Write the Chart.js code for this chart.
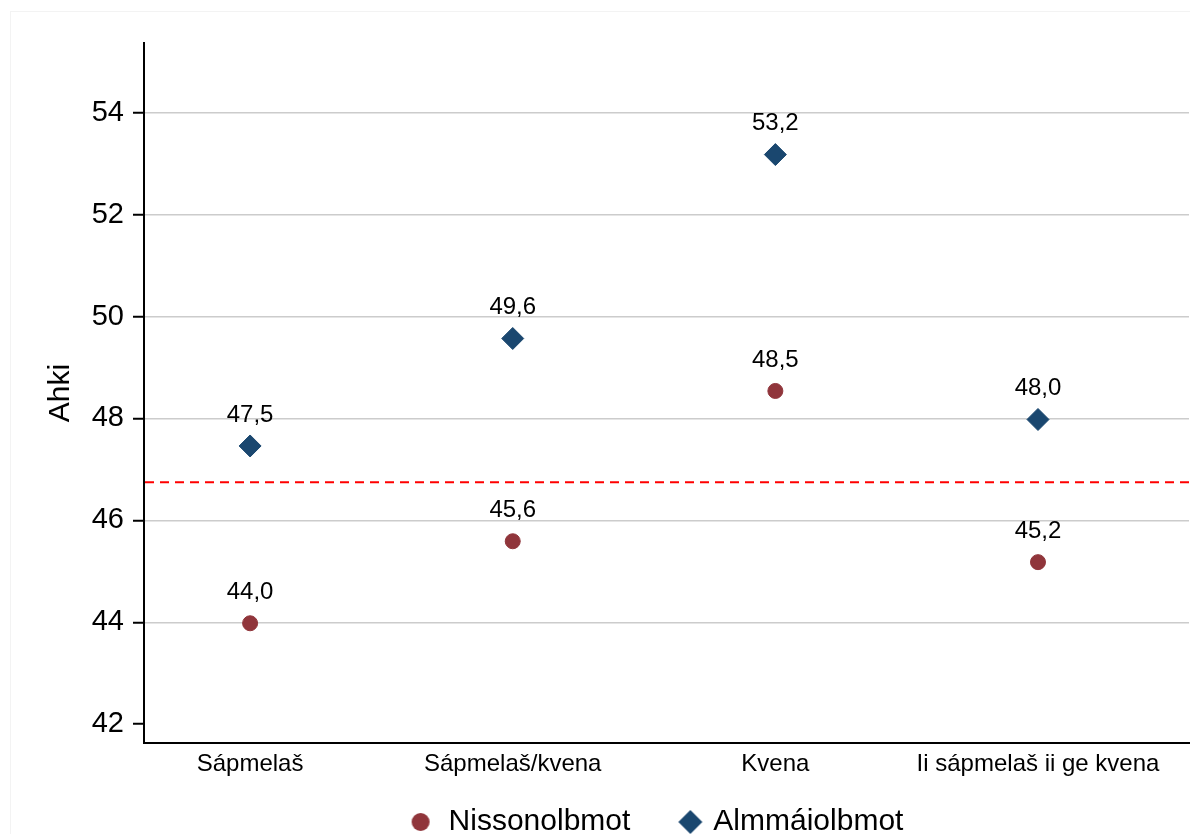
<!DOCTYPE html>
<html lang="se">
<head>
<meta charset="UTF-8">
<title>Ahki</title>
<script src="https://cdn.jsdelivr.net/npm/chart.js@4.4.1/dist/chart.umd.min.js"></script>
<style>
  html, body { margin: 0; padding: 0; background: #ffffff; }
  #wrap { position: relative; width: 1190px; height: 836px; }
  #frame { position: absolute; left: 10px; top: 11px; right: 0; bottom: 2px;
           border-left: 1px solid #f3f3f3; border-top: 1px solid #f3f3f3; pointer-events: none; }
</style>
</head>
<body>
<div id="wrap">
  <canvas id="ahkiChart" width="1190" height="836"></canvas>
  <div id="frame"></div>
</div>
<script>
// data
const categories = ['Sápmelaš', 'Sápmelaš/kvena', 'Kvena', 'Ii sápmelaš ii ge kvena'];
const nissonValues = [43.98, 45.59, 48.54, 45.18];
const almmaiValues = [47.46, 49.57, 53.18, 47.98];
const seriesNames = ['Nissonolbmot', 'Almmáiolbmot'];
const yTicks = [42, 44, 46, 48, 50, 52, 54];
const refLine = 46.75;

const maroon = '#90353B';
const navy = '#1A476F';
const fontFamily = '"Liberation Sans", Arial, sans-serif';

// legend markers as small canvases (marker sits a bit right of the image centre)
function makeMarker(shape, color, r, dx) {
    const c = document.createElement('canvas');
    c.width = 90; c.height = 30;
    const g = c.getContext('2d');
    const cx = 45 + dx, cy = 15;
    g.fillStyle = color;
    g.beginPath();
    if (shape === 'circle') {
        g.arc(cx, cy, r, 0, Math.PI * 2);
    } else {
        g.moveTo(cx - r, cy); g.lineTo(cx, cy - r); g.lineTo(cx + r, cy); g.lineTo(cx, cy + r);
        g.closePath();
    }
    g.fill();
    return c;
}
const legendMarkers = [makeMarker('circle', maroon, 9, 16), makeMarker('diamond', navy, 12, 21)];

// red dashed reference line
const refLinePlugin = {
    id: 'refLine',
    beforeDatasetsDraw(chart) {
        const {ctx, chartArea, scales} = chart;
        const y = scales.y.getPixelForValue(refLine);
        ctx.save();
        ctx.strokeStyle = '#FF0000';
        ctx.lineWidth = 2;
        ctx.setLineDash([9, 6]);
        ctx.beginPath();
        ctx.moveTo(chartArea.left + 1, y);
        ctx.lineTo(chartArea.right, y);
        ctx.stroke();
        ctx.restore();
    }
};

// value labels above each marker
const valueLabels = {
    id: 'valueLabels',
    afterDatasetsDraw(chart) {
        const ctx = chart.ctx;
        ctx.save();
        ctx.font = '24px ' + fontFamily;
        ctx.fillStyle = '#000000';
        ctx.textAlign = 'center';
        ctx.textBaseline = 'middle';
        chart.data.datasets.forEach((ds, di) => {
            chart.getDatasetMeta(di).data.forEach((pt, i) => {
                const txt = ds.data[i].y.toFixed(1).replace('.', ',');
                ctx.fillText(txt, pt.x, pt.y - 31);
            });
        });
        ctx.restore();
    }
};

// nudge the legend box down/left to sit where the reference has it
const legendNudge = {
    id: 'legendNudge',
    afterLayout(chart) {
        const lg = chart.legend;
        if (!lg) return;
        lg.top += 11; lg.bottom += 11;
        lg.left -= 27; lg.right -= 27;
    }
};

new Chart(document.getElementById('ahkiChart'), {
    type: 'scatter',
    data: {
        datasets: [
            {
                label: seriesNames[0],
                data: nissonValues.map((v, i) => ({x: i + 1, y: v})),
                pointStyle: 'circle',
                pointRadius: 7.5,
                pointBackgroundColor: maroon,
                pointBorderColor: maroon,
                pointBorderWidth: 1,
                backgroundColor: maroon,
                borderColor: maroon
            },
            {
                label: seriesNames[1],
                data: almmaiValues.map((v, i) => ({x: i + 1, y: v})),
                pointStyle: 'rectRot',
                pointRadius: 11,
                pointBackgroundColor: navy,
                pointBorderColor: navy,
                pointBorderWidth: 1,
                backgroundColor: navy,
                borderColor: navy
            }
        ]
    },
    options: {
        responsive: false,
        animation: false,
        layout: { autoPadding: false, padding: { top: 43, right: 1, bottom: 0, left: 0 } },
        font: { family: fontFamily },
        scales: {
            x: {
                type: 'linear',
                min: 0.596,
                max: 4.575,
                afterBuildTicks: (scale) => { scale.ticks = categories.map((c, i) => ({value: i + 1})); },
                afterFit: (scale) => {
                    scale.height = 43;
                    scale.paddingLeft = 0;
                    scale.paddingRight = 0;
                },
                grid: { display: false, drawTicks: false },
                border: { display: true, color: '#000000', width: 2 },
                ticks: {
                    autoSkip: false,
                    maxRotation: 0,
                    padding: 7,
                    color: '#000000',
                    font: { size: 24, family: fontFamily },
                    callback: (v) => categories[v - 1]
                }
            },
            y: {
                min: 41.63,
                max: 55.37,
                afterBuildTicks: (scale) => { scale.ticks = yTicks.map(v => ({value: v})); },
                afterFit: (scale) => { scale.width = 144; },
                title: {
                    display: true,
                    text: 'Ahki',
                    color: '#000000',
                    font: { size: 30, family: fontFamily },
                    padding: { top: 43, bottom: 0 }
                },
                grid: {
                    color: (c) => (c.tick && c.tick.value === 42) ? 'rgba(0,0,0,0)' : '#cccccc',
                    lineWidth: 1.5,
                    tickColor: '#000000',
                    tickWidth: 2,
                    tickLength: 11
                },
                border: { display: true, color: '#000000', width: 2 },
                ticks: {
                    padding: 9,
                    color: '#000000',
                    font: { size: 29, family: fontFamily }
                }
            }
        },
        plugins: {
            tooltip: { enabled: false },
            legend: {
                position: 'bottom',
                fullSize: false,
                labels: {
                    usePointStyle: true,
                    pointStyleWidth: 58,
                    boxWidth: 58,
                    padding: 10,
                    color: '#000000',
                    font: { size: 30, family: fontFamily },
                    generateLabels: (chart) => chart.data.datasets.map((ds, i) => ({
                        text: ds.label,
                        pointStyle: legendMarkers[i],
                        fillStyle: ds.backgroundColor,
                        strokeStyle: ds.borderColor,
                        lineWidth: 0,
                        hidden: false,
                        datasetIndex: i,
                        fontColor: '#000000'
                    }))
                }
            }
        }
    },
    plugins: [refLinePlugin, valueLabels, legendNudge]
});
</script>
</body>
</html>
